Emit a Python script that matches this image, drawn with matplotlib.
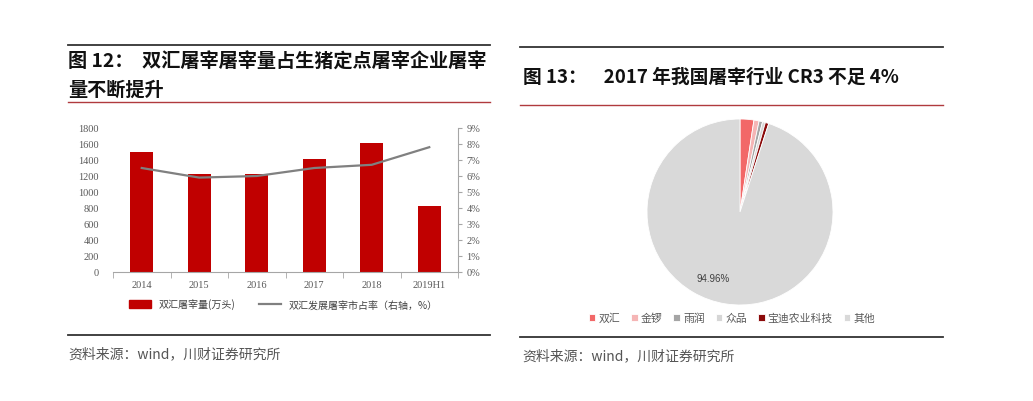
import numpy as np
import matplotlib
matplotlib.use("Agg")
import matplotlib.pyplot as plt
from matplotlib.lines import Line2D
from matplotlib.patches import Patch

plt.rcParams['font.family'] = ['Noto Sans CJK SC', 'DejaVu Sans']

# left chart data
years = ['2014', '2015', '2016', '2017', '2018', '2019H1']
slaughter = [1500, 1230, 1225, 1410, 1610, 830]          # 万头
share = [0.065, 0.059, 0.060, 0.065, 0.067, 0.078]       # 市占率

# right chart data
companies = ['双汇', '金锣', '雨润', '众品', '宝迪农业科技', '其他']
pie_share = [2.40, 0.90, 0.60, 0.50, 0.60, 94.96]
pie_colors = ['#F26868', '#F5B5B5', '#A5A5A5', '#D6D6D6', '#8B0A0A', '#D9D9D9']

W, H = 1033, 402
fig = plt.figure(figsize=(W / 100, H / 100), dpi=100)


def fx(x):
    return x / W


def fy(y):
    return 1 - y / H


def hline(x0, x1, y, color, lw):
    fig.add_artist(Line2D([fx(x0), fx(x1)], [fy(y), fy(y)], color=color, lw=lw))


serif = ['Liberation Serif', 'Noto Sans CJK SC']
tick_col = '#595959'

# ---- left panel frame ----
hline(68, 490, 46, '#333333', 1.3)
fig.text(fx(68), fy(62), '图 12：  双汇屠宰屠宰量占生猪定点屠宰企业屠宰', fontsize=13.8,
         fontweight='bold', va='center', ha='left', color='#111111')
fig.text(fx(68), fy(90), '量不断提升', fontsize=13.8, fontweight='bold',
         va='center', ha='left', color='#111111')
hline(68, 490, 103, '#B03A3E', 1.0)
hline(68, 490, 336, '#333333', 1.3)
fig.text(fx(68), fy(354), '资料来源：wind，川财证券研究所', fontsize=10,
         style='italic', color='#555555', va='center', ha='left')

# ---- bar + line chart ----
ax = fig.add_axes([fx(113), fy(273), fx(458) - fx(113), fy(129) - fy(273)])
x = np.arange(len(years))
ax.bar(x, slaughter, width=0.40, color='#C00000', zorder=2)
ax.set_xlim(-0.5, len(years) - 0.5)
ax.set_ylim(0, 1800)
ax.set_yticks(np.arange(0, 1801, 200))
ax.set_xticks(x)
ax.set_xticklabels(years)
ax.set_xticks(np.arange(-0.5, len(years)), minor=True)
ax.tick_params(axis='x', which='major', length=0, pad=6)
ax.tick_params(axis='x', which='minor', length=4, color='#A6A6A6', direction='out')
ax.tick_params(axis='y', length=0, pad=10)
for lab in ax.get_xticklabels() + ax.get_yticklabels():
    lab.set_fontfamily(serif)
    lab.set_fontsize(7.5)
    lab.set_color(tick_col)
for s in ['top', 'left', 'right']:
    ax.spines[s].set_visible(False)
ax.spines['bottom'].set_color('#A6A6A6')

ax2 = ax.twinx()
ax2.plot(x, share, color='#808080', lw=1.6, zorder=3)
ax2.set_ylim(0, 0.09)
ax2.set_yticks(np.arange(0, 0.091, 0.01))
ax2.set_yticklabels([f'{i}%' for i in range(10)])
ax2.tick_params(axis='y', length=3, color='#A6A6A6', pad=3)
for lab in ax2.get_yticklabels():
    lab.set_fontfamily(serif)
    lab.set_fontsize(7.5)
    lab.set_color(tick_col)
for s in ['top', 'left', 'bottom']:
    ax2.spines[s].set_visible(False)
ax2.spines['right'].set_color('#A6A6A6')

handles = [Patch(color='#C00000'), Line2D([], [], color='#808080', lw=1.6)]
fig.legend(handles, ['双汇屠宰量(万头)', '双汇发展屠宰市占率（右轴，%）'],
           loc='center left', bbox_to_anchor=(fx(120), fy(305)), ncol=2,
           frameon=False, fontsize=7.2, handlelength=2.2, handleheight=0.9,
           columnspacing=2.3, labelcolor='#404040')

# ---- right panel frame ----
hline(520, 943, 48, '#333333', 1.3)
fig.text(fx(523), fy(77), '图 13：    2017 年我国屠宰行业 CR3 不足 4%', fontsize=13.5,
         fontweight='bold', va='center', ha='left', color='#111111')
hline(520, 943, 106, '#B03A3E', 1.0)
hline(520, 943, 338, '#333333', 1.3)
fig.text(fx(522), fy(356), '资料来源：wind，川财证券研究所', fontsize=10,
         style='italic', color='#555555', va='center', ha='left')

# ---- pie ----
pax = fig.add_axes([fx(647), fy(306), fx(833) - fx(647), fy(120) - fy(306)])
wedges, _ = pax.pie(pie_share, colors=pie_colors, startangle=90, counterclock=False,
                    wedgeprops=dict(edgecolor='white', linewidth=0.6))
pax.set_xlim(-1.0, 1.0)
pax.set_ylim(-1.0, 1.0)
pax.set_aspect('equal')
pax.text(-0.29, -0.71, f'{pie_share[-1]:.2f}%', fontsize=7, color='#404040',
         ha='center', va='center', family=['Liberation Sans', 'DejaVu Sans'])

fig.legend(wedges, companies, loc='center', bbox_to_anchor=(fx(732), fy(319)),
           ncol=6, frameon=False, fontsize=7.8, handlelength=0.6, handleheight=0.6,
           handletextpad=0.3, columnspacing=1.0, labelcolor='#595959')

fig.savefig('out.png', dpi=100, facecolor='white')
